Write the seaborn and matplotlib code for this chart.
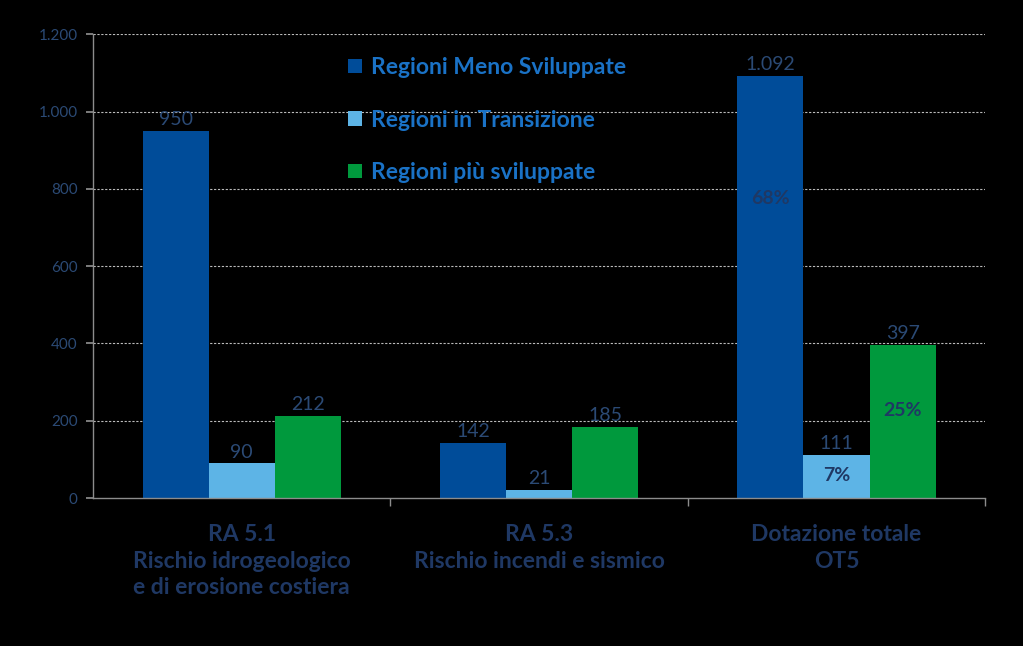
import matplotlib
matplotlib.use("Agg")
import matplotlib.pyplot as plt
import seaborn as sns
import pandas as pd
import numpy as np

categories = ["RA 5.1\nRischio idrogeologico\ne di erosione costiera",
              "RA 5.3\nRischio incendi e sismico",
              "Dotazione totale\nOT5"]
series = ["Regioni Meno Sviluppate", "Regioni in Transizione", "Regioni più sviluppate"]
meno = [950, 142, 1092]
transizione = [90, 21, 111]
piu = [212, 185, 397]
perc_labels = ["68%", "7%", "25%"]
perc_pos = [0.71, 0.53, 0.57]  # fraction of bar height for the % label
yticks = [0, 200, 400, 600, 800, 1000, 1200]
colors = ["#004C99", "#5DB4E6", "#00993D"]

rows = []
for s, vals in zip(series, [meno, transizione, piu]):
    for c, v in zip(categories, vals):
        rows.append({"cat": c, "series": s, "val": v})
df = pd.DataFrame(rows)

sns.set_theme(style="dark")
plt.rcParams["font.family"] = ["Lato", "DejaVu Sans"]

fig = plt.figure(figsize=(10.23, 6.46), dpi=100, facecolor="black")
ax = fig.add_axes([0.091, 0.229, 0.872, 0.718])
ax.set_facecolor("black")

sns.barplot(data=df, x="cat", y="val", hue="series", palette=colors,
            width=0.667, gap=0, saturation=1, ax=ax, legend=True,
            linewidth=0, edgecolor="none")

def itfmt(v):
    return f"{int(v):,}".replace(",", ".")

label_col = "#2B4A75"
for cont in ax.containers:
    ax.bar_label(cont, labels=[itfmt(b.get_height()) for b in cont],
                 padding=2, color=label_col, fontsize=14)

# percentage labels in the last group
for i, cont in enumerate(ax.containers):
    b = cont[2]
    ax.text(b.get_x() + b.get_width() / 2, b.get_height() * perc_pos[i],
            perc_labels[i], ha="center", va="center", color="#1F3864",
            fontsize=14, fontweight="bold")

ax.set_xlim(-0.5, 2.5)
ax.set_ylim(0, 1200)
ax.set_yticks(yticks)
ax.set_yticklabels([itfmt(v) for v in yticks])
ax.set_xlabel("")
ax.set_ylabel("")

ax.grid(False)
for y in yticks[1:]:
    ax.axhline(y, color="#BBBBBB", lw=0.8, ls=(0, (2, 1.5)), zorder=0)

for s in ["top", "right"]:
    ax.spines[s].set_visible(False)
ax.spines["left"].set_visible(True)
ax.spines["bottom"].set_visible(True)
ax.spines["left"].set_color("#8C8C8C")
ax.spines["bottom"].set_color("#8C8C8C")
ax.spines["left"].set_linewidth(1)
ax.spines["bottom"].set_linewidth(1)

ax.tick_params(axis="y", which="major", left=True, length=5, color="#8C8C8C",
               labelcolor="#2B4A75", labelsize=11, direction="out", pad=6)
ax.tick_params(axis="x", which="major", bottom=False, length=0, pad=19,
               labelcolor="#1F3864", labelsize=16.5)
ax.set_xticks([0.5, 1.5, 2.5], minor=True)
ax.tick_params(axis="x", which="minor", bottom=True, length=6, color="#8C8C8C",
               direction="out")
for lab in ax.get_xticklabels():
    lab.set_fontweight("bold")
    lab.set_linespacing(1.3)

leg = ax.legend(loc="upper left", bbox_to_anchor=(0.263, 0.995), frameon=False,
                handlelength=0.6, handleheight=0.6, handletextpad=0.4,
                labelspacing=1.37, prop={"weight": "bold", "size": 16.5},
                labelcolor="#1A72C6")
for h in leg.legend_handles:
    h.set_edgecolor("none")
    h.set_linewidth(0)

fig.savefig("out.png", dpi=100, facecolor="black")
